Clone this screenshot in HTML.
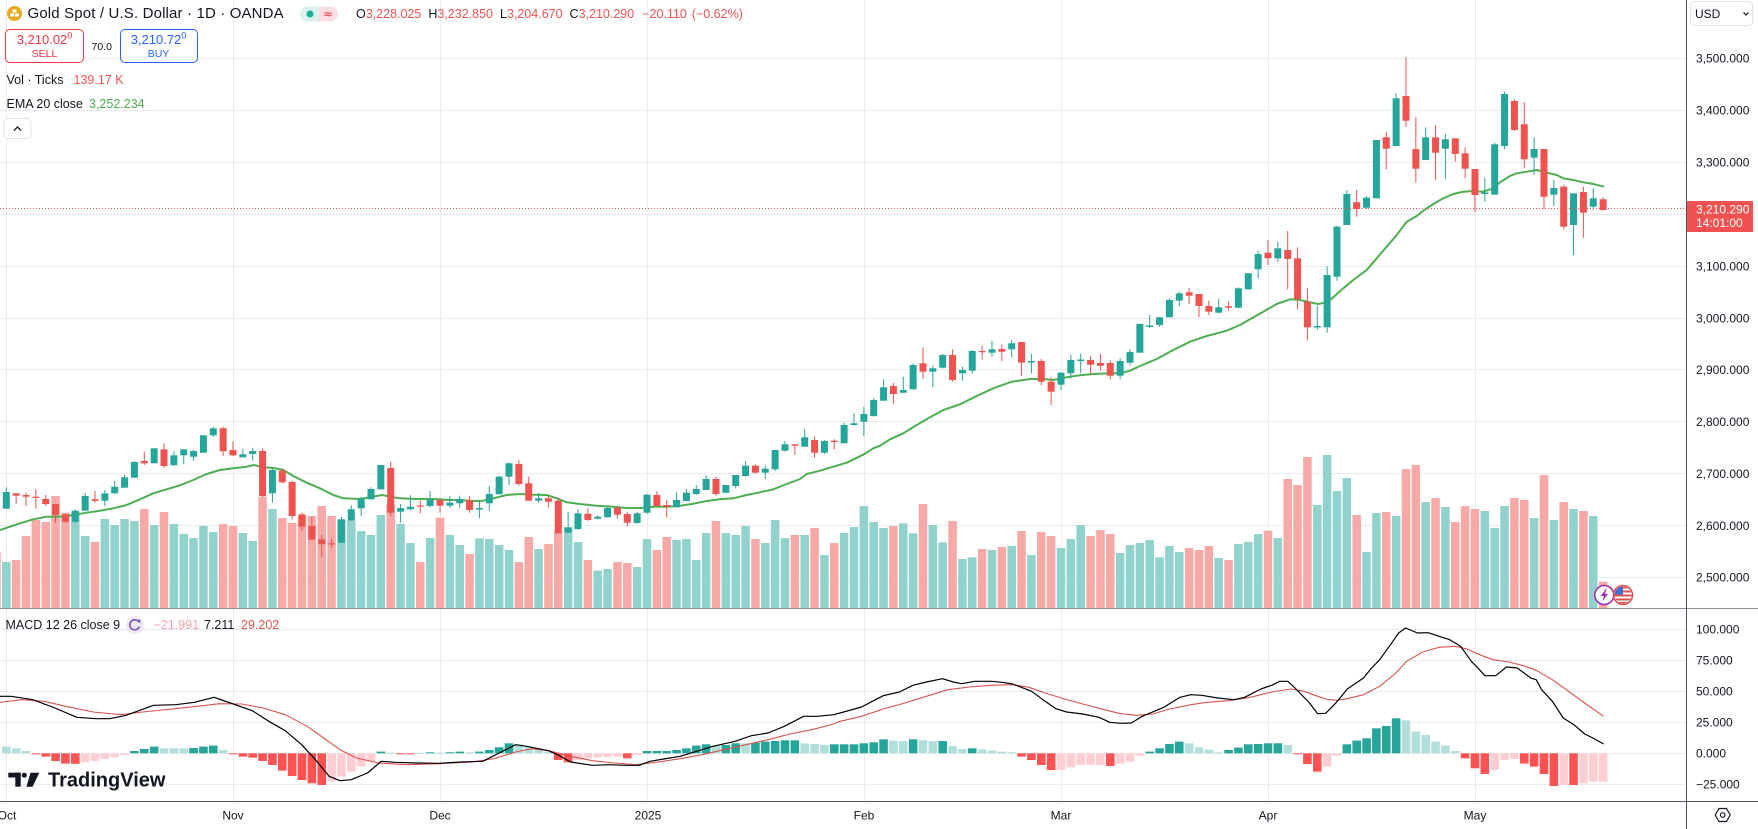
<!DOCTYPE html>
<html><head><meta charset="utf-8">
<style>
html,body{margin:0;padding:0;background:#fff;}
body{width:1758px;height:829px;overflow:hidden;position:relative;font-family:"Liberation Sans",sans-serif;color:#131722;}
svg{position:absolute;left:0;top:0;}
.t{position:absolute;white-space:nowrap;line-height:16px;}
.r{color:#ef5350;}
.box{position:absolute;box-sizing:border-box;border-radius:5px;text-align:center;background:#fff;}
</style></head><body>
<svg id="c" width="1758" height="829" xmlns="http://www.w3.org/2000/svg">
<g id="grid" stroke="#e9ebf0" stroke-width="1" fill="none">
<path d="M0 58.5H1686M0 110.5H1686M0 162.5H1686M0 214.5H1686M0 266.5H1686M0 318.5H1686M0 369.5H1686M0 421.5H1686M0 473.5H1686M0 525.5H1686M0 577.5H1686"/>
<path d="M0 629.5H1686M0 660.5H1686M0 691.5H1686M0 722.5H1686M0 753.5H1686M0 784.5H1686"/>
<path d="M6.5 0V801M233.5 0V801M440.5 0V801M647.5 0V801M864.5 0V801M1061.5 0V801M1268.5 0V801M1475.5 0V801"/>
</g>
<g id="vol"></g>
<g id="ema"></g>
<g id="cdl"></g>
<line x1="0" y1="208.5" x2="1686" y2="208.5" stroke="#ef5350" stroke-width="1" stroke-dasharray="1,2"/>
<g id="hist"></g>
<g id="macd"></g>
<!-- separators / axes -->
<line x1="0" y1="608.5" x2="1758" y2="608.5" stroke="#8a8d96" stroke-width="1"/>
<line x1="0" y1="801.5" x2="1758" y2="801.5" stroke="#50535e" stroke-width="1"/>
<line x1="1686.5" y1="0" x2="1686.5" y2="829" stroke="#50535e" stroke-width="1"/>
<!-- price axis labels -->
<g font-family="Liberation Sans, sans-serif" font-size="12" fill="#131722">
<text x="1696" y="62.4">3,500.000</text>
<text x="1696" y="114.4">3,400.000</text>
<text x="1696" y="166.4">3,300.000</text>
<text x="1696" y="270.4">3,100.000</text>
<text x="1696" y="322.4">3,000.000</text>
<text x="1696" y="373.9">2,900.000</text>
<text x="1696" y="425.9">2,800.000</text>
<text x="1696" y="477.9">2,700.000</text>
<text x="1696" y="529.9">2,600.000</text>
<text x="1696" y="581.4">2,500.000</text>
<text x="1696" y="633.4">100.000</text>
<text x="1696" y="664.4">75.000</text>
<text x="1696" y="695.4">50.000</text>
<text x="1696" y="726.4">25.000</text>
<text x="1696" y="757.7">0.000</text>
<text x="1696" y="788.7">−25.000</text>
</g>
<!-- time axis labels -->
<g font-family="Liberation Sans, sans-serif" font-size="12" fill="#131722" text-anchor="middle">
<text x="7" y="819.5">Oct</text>
<text x="233" y="819.5">Nov</text>
<text x="440" y="819.5">Dec</text>
<text x="648" y="819.5">2025</text>
<text x="864" y="819.5">Feb</text>
<text x="1061" y="819.5">Mar</text>
<text x="1268" y="819.5">Apr</text>
<text x="1475" y="819.5">May</text>
</g>
<!-- price label -->
<rect x="1687" y="201" width="66" height="31" fill="#f05252"/>
<text x="1696" y="213.5" font-family="Liberation Sans, sans-serif" font-size="12" fill="#fff">3,210.290</text>
<text x="1696" y="227" font-family="Liberation Sans, sans-serif" font-size="12" fill="#fff">14:01:00</text>
<!-- USD box -->
<rect x="1690.5" y="1.5" width="62" height="24" rx="4" fill="#fff" stroke="#e0e3eb"/>
<text x="1695" y="18" font-family="Liberation Sans, sans-serif" font-size="12" fill="#131722">USD</text>
<polyline points="1743.5,12.5 1746,15 1748.5,12.5" fill="none" stroke="#131722" stroke-width="1.2"/>
<!-- gear -->
<polygon points="1730.2,815 1726.45,821.5 1718.95,821.5 1715.2,815 1718.95,808.5 1726.45,808.5" fill="none" stroke="#131722" stroke-width="1.2"/>
<circle cx="1722.7" cy="815" r="2.3" fill="none" stroke="#131722" stroke-width="1.2"/>
<!-- header icons -->
<circle cx="14.5" cy="13.5" r="7.5" fill="#e7a81b"/>
<rect x="10" y="13.5" width="4" height="3" fill="#fff"/>
<rect x="15" y="13.5" width="4" height="3" fill="#fff"/>
<rect x="12.5" y="9.5" width="4" height="3" fill="#fff"/>
<path d="M307.5 6.5H319V21.5H307.5A7.5 7.5 0 0 1 307.5 6.5Z" fill="#dcf2ee"/>
<path d="M319 6.5H330.5A7.5 7.5 0 0 1 330.5 21.5H319Z" fill="#fcdde3"/>
<circle cx="310" cy="14" r="3.5" fill="#22ab94"/>
<text x="328" y="18" font-family="DejaVu Sans, sans-serif" font-size="12" fill="#f23645" text-anchor="middle">≈</text>
<!-- collapse button -->
<rect x="4" y="118.5" width="27" height="20" rx="4" fill="#fff" stroke="#e0e3eb"/>
<polyline points="14,130.5 17.5,127 21,130.5" fill="none" stroke="#131722" stroke-width="1.3"/>
<!-- macd icon -->
<circle cx="135" cy="625" r="9" fill="#ede7f6"/>
<path d="M138.5 621.5 A5 5 0 1 0 139.5 626.5" fill="none" stroke="#7e57c2" stroke-width="1.6"/>
<polygon points="136.5,620 140.5,619.5 140,623.5" fill="#7e57c2"/>
<!-- TradingView logo -->
<rect x="8.3" y="772.7" width="12.4" height="4.8" fill="#131722"/>
<rect x="15.3" y="772.7" width="5.4" height="14" fill="#131722"/>
<circle cx="24.3" cy="775.2" r="2.5" fill="#131722"/>
<polygon points="30.5,772.7 39.3,772.7 32.6,786.7 26.4,786.7" fill="#131722"/>
<text x="48" y="786.5" font-family="Liberation Sans, sans-serif" font-weight="bold" font-size="20" fill="#131722">TradingView</text>
<!-- bottom icons -->
<circle cx="1604.3" cy="595" r="9.5" fill="#fff" stroke="#9c27b0" stroke-width="1.5"/>
<polygon points="1606.3,588.5 1600.8,596 1604,596 1602.3,601.5 1608,593.8 1604.8,593.8 1606.8,588.5" fill="#9c27b0"/>
<defs><clipPath id="fc"><circle cx="1623" cy="595" r="8.5"/></clipPath></defs>
<g clip-path="url(#fc)">
<rect x="1614" y="586" width="18" height="18" fill="#fff"/>
<rect x="1614" y="586.5" width="18" height="2" fill="#e05050"/>
<rect x="1614" y="590.5" width="18" height="2" fill="#e05050"/>
<rect x="1614" y="594.5" width="18" height="2" fill="#e05050"/>
<rect x="1614" y="598.5" width="18" height="2" fill="#e05050"/>
<rect x="1614" y="602" width="18" height="2" fill="#e05050"/>
<rect x="1614" y="586" width="9" height="8.5" fill="#3f6fd0"/>
</g>
<circle cx="1623" cy="595" r="9.5" fill="none" stroke="#e05050" stroke-width="1.5"/>
</svg>

<!-- header -->
<div class="t" style="left:27.5px;top:5.5px;font-size:15px;letter-spacing:0.15px;">Gold Spot / U.S. Dollar · 1D · OANDA</div>
<div class="t" style="left:356px;top:5.5px;font-size:12.5px;">O<span class="r">3,228.025</span><span style="margin-left:7px">H</span><span class="r">3,232.850</span><span style="margin-left:7px">L</span><span class="r">3,204.670</span><span style="margin-left:7px">C</span><span class="r">3,210.290</span><span class="r" style="margin-left:8px">−20.110</span><span class="r" style="margin-left:5px">(−0.62%)</span></div>

<div class="box" style="left:5px;top:29px;width:79px;height:34px;border:1px solid #f23645;color:#f23645;">
<div style="font-size:13px;line-height:15px;margin-top:2px;">3,210.02<sup style="font-size:9px;line-height:0;">0</sup></div>
<div style="font-size:10.5px;line-height:13px;margin-top:1px;">SELL</div>
</div>
<div class="t" style="left:91.5px;top:39px;font-size:10.5px;">70.0</div>
<div class="box" style="left:119.5px;top:29px;width:78px;height:34px;border:1px solid #2962ff;color:#2962ff;">
<div style="font-size:13px;line-height:15px;margin-top:2px;">3,210.72<sup style="font-size:9px;line-height:0;">0</sup></div>
<div style="font-size:10.5px;line-height:13px;margin-top:1px;">BUY</div>
</div>

<div class="t" style="left:6.5px;top:72px;font-size:12.5px;">Vol · Ticks</div>
<div class="t r" style="left:73.5px;top:72px;font-size:12.5px;">139.17 K</div>
<div class="t" style="left:6.5px;top:96px;font-size:12.5px;">EMA 20 close</div>
<div class="t" style="left:89px;top:96px;font-size:12.5px;color:#4caf50;">3,252.234</div>

<div class="t" style="left:5.5px;top:617px;font-size:12.5px;">MACD 12 26 close 9</div>
<div class="t" style="left:153.5px;top:617px;font-size:12.5px;color:#f7a3ad;">−21.991</div>
<div class="t" style="left:204px;top:617px;font-size:12.5px;color:#131722;">7.211</div>
<div class="t" style="left:241px;top:617px;font-size:12.5px;color:#e0574f;">29.202</div>

<script>
(function(){
var NS="http://www.w3.org/2000/svg";
function el(p,t,a){var e=document.createElementNS(NS,t);for(var k in a)e.setAttribute(k,a[k]);p.appendChild(e);return e;}
function X(i){return 233+9.857*i;}
var D=[
[0,492.7,508.3,490,510,551.7],[1,492,508.7,487.3,508.7,562],[0,493.3,495.7,493.3,504,560],[0,495,496.7,492.7,506,536],
[0,496.7,497.7,489.3,508.7,520],[0,499,504,495,506,522],[0,504,515,504,522.7,496],[0,514.3,521.7,513.3,522.7,512.7],
[1,510.7,521.7,509.3,522.7,511.7],[1,496,510.7,492.7,510.7,536],[0,499.3,501,491,502.7,542],[1,493.3,500.7,490,506,519],
[1,486.7,493.3,481,494.3,525],[1,477.3,487.7,475,487.7,519],[1,462,477.7,461.3,477.7,521],[0,461,463.3,451.7,465,509],
[1,448.3,463.3,448.3,463.3,525],[0,449.3,466,443.3,468.3,512],[1,455.3,465.3,451,465.3,524],[1,449.3,455.3,449.3,464.3,534],
[1,451,456.7,450,460.7,538],[1,435.3,452.7,435,452.7,526],[1,428.3,435.3,426.7,436.7,532],[0,428.3,451.3,426.7,456,524],
[0,450,455.3,441.3,456,526],[1,454.3,457.3,448.7,457.3,533],[1,451,454,447.7,460.7,541],[0,451,496,448.3,497.3,496.7],
[1,470,493.3,468.3,502.7,509],[0,470.7,482.3,468.3,483.3,518],[0,482,516,480.7,519.3,523],[0,514.3,526.7,512.7,530.7,516],
[0,526,539.7,516.7,539.7,516],[0,539.3,544.3,535,557.3,506],[0,543.3,544.3,538.7,548.3,516],[1,519.3,542.7,516.7,542.7,520],
[1,509.3,520.7,505.3,520.7,521],[1,498.7,508.3,496.7,516,531],[1,489,499.3,487.3,499.3,535],[1,465,489.3,465,489.3,515],
[0,468,512.7,462,516.7,504],[1,508,511.7,504,522.7,524],[1,506.7,509.3,495.3,510,543],[0,505.5,506.5,500.7,513.3,562],
[1,499.3,506,491,507.3,538],[0,500,505.7,498.3,512.7,517.7],[1,502.7,505.7,496,507.7,535],[1,499,503.3,495.7,507.7,545],
[0,500,510,496,512.7,554],[1,508,509.5,500,518.3,538.3],[1,494,503.3,486,510.7,539],[1,476.7,494.3,476,494.3,545],
[1,463.3,476.7,462.3,485,550],[0,464,484,460,485.7,562],[0,483.3,500.7,476.7,500.7,537],[1,498.3,500.7,492.7,502.7,549],
[0,498.3,501.7,495.7,507.3,544],[0,500.7,533.3,498.3,533.3,531.7],[1,527.7,532.7,512,532.7,527],[1,513.3,529,509.3,530,542],
[0,513.7,520,508.3,521,560],[1,516.7,518.7,515.3,519.3,570.7],[1,508,517.3,506.7,517.3,569],[0,507.7,514.7,505.7,518.7,562],
[0,514,522.7,511.7,526.7,563],[1,513.3,523,511.7,523.7,567],[1,494.7,512.7,494,513.7,539],[0,495,506,491.3,506,550],
[0,505,507,500,517.7,537],[1,500,507.3,492.3,507.3,540],[1,492.7,501,489,501,539],[1,489,494,485,495,560],
[1,479,490,475.3,490,533],[0,479,494,476.7,495.7,521],[1,485,492.7,485,493.3,533],[1,475,486,475,488.3,535],
[1,465.7,476,461,476.7,526],[0,465.7,472.7,464.3,473.3,539],[1,468.7,472.7,465.3,478.7,543],[1,450,469.3,450,471,520],
[1,444.3,450.7,441,451.7,538],[0,444.3,445.7,444,454.7,535],[1,437.3,446.7,429,446.7,535],[0,440,452.7,436.7,457.7,528],
[1,441,452.7,440,454,555],[0,440.7,442,439.3,449.3,543],[1,425,443.3,422.7,443.3,533],[1,423.3,425,413.3,425.7,527],
[1,414,421.7,406.7,436,506],[1,400,416,398.3,416.7,522],[1,387.3,400.7,379.3,400.7,528],[0,386,394,382.7,404,526],
[1,390,392.7,376.7,392.7,523.3],[1,365,389.3,363.3,389.3,533.3],[0,363.3,371.7,347.3,378.7,504],[1,368.3,371.7,365.7,387.3,525],
[1,355,367.7,354,368.3,542.3],[0,355,380,349.3,381.7,521],[1,370,373.3,366.7,380.7,559],[1,351,370.7,350,373.3,557.3],
[0,351,352,345.7,359.3,549],[1,349.3,352.7,341,356.7,550],[0,349,351.7,344.3,361,547],[1,343.3,349.3,340,357.3,546],
[0,342,362.7,342,376,531],[1,361,362.5,354,373.3,555],[0,361,381.7,359,385,532],[0,381.7,391.7,377.3,405,536],
[1,372.7,384.7,372,390,548],[1,360,373.3,354.7,378.7,539],[1,359.5,361,353.7,373.3,525],[0,360,364.7,356,374,536],
[0,363,365.7,354,370.7,530],[0,363,375.7,360.3,379.3,534],[1,361,375.7,358.3,379.3,553],[1,352,362.7,349.3,365.3,545],
[1,324,352.7,323.3,352.7,543],[1,325.5,327,315,328.3,540],[1,317.3,325,316.7,326.7,557.3],[1,300,317.3,298.3,317.3,546],
[1,293.3,300.7,291.7,306,552],[0,292.3,295.7,288,304,548],[0,294,306,294,317.3,550],[0,306,311.7,300.7,315,546],
[1,307.3,312.7,299,313.3,558],[0,306.2,307.7,301.3,310.7,560],[1,288.3,307.7,287.3,308.3,544],[1,273.3,289.3,273.3,290,542],
[1,254,269.3,250.7,278.3,534],[0,252.7,258.3,240,265,530.7],[1,248.3,258.3,241.7,262,538],[0,250,259,231,289.3,479],
[0,258.3,299.3,247.3,309.3,485],[0,301.7,327.3,288.3,340,457],[1,326,327.5,305.7,330,505],[1,275,327.3,266,332.7,455],
[1,226.7,276.7,226,280.7,491],[1,194,225,190,225,478],[0,202.3,209,190,216.7,515],[1,197.7,207.7,196,209,552],
[1,140,198.3,140,198.3,513],[0,137.3,148.7,132,169.3,512],[1,98.3,146,93.3,146,516],[0,96,120.7,57.3,126.7,469],
[0,149,168.7,117.3,182.7,465],[1,137.3,160,127.3,160,502],[0,137.3,152.7,125.3,180,498],[1,139.3,148.7,134,178.7,507],
[0,138.3,154,138.3,161.7,522],[0,153.3,168.7,147.3,178.3,506],[0,169,195,169,212.7,509],[1,192.5,194,177.7,201.7,511],
[1,144.3,194.7,142.7,194.7,528],[1,94,146,91.7,149.3,506],[0,101,130,99.3,130.7,498],[0,124.3,159.3,102,168.3,500],
[1,149,157.7,137.3,175,518],[0,149,196.7,149,209.3,475],[1,188,194.7,180,206,520],[0,186.7,226.7,185,229.3,502],
[1,193.3,225,193.3,255,509],[0,192,212.7,186.7,237.7,511],[1,198.3,206.7,188.3,210,516],[0,199.3,210,197.3,210.7,581.7]
];
var gV=document.getElementById('vol'),gC=document.getElementById('cdl');
for(var n=0;n<D.length;n++){
  var d=D[n],i=n-24,x=X(i),up=d[0]===1,col=up?'#26a69a':'#ef5350';
  el(gV,'rect',{x:(x-4.25).toFixed(2),y:d[5],width:8.5,height:(608-d[5]).toFixed(2),fill:up?'#92d2cc':'#f7a9a7'});
  el(gC,'rect',{x:(x-0.5).toFixed(2),y:d[3],width:1,height:(d[4]-d[3]).toFixed(2),fill:col});
  el(gC,'rect',{x:(x-3.5).toFixed(2),y:d[1],width:7,height:Math.max(1.2,d[2]-d[1]).toFixed(2),fill:col});
}
var E=[[0,530],[10,526.7],[20,523.3],[33.3,519.3],[46.7,516.7],[60,516.7],[73.3,515],[86.7,512.7],[100,510.7],[113.3,508.3],[126.7,505],[140,499.3],[153.3,493.3],[166.7,489.3],[180,485.3],[193.3,480],[206.7,474],[220,470],[233.3,468.3],[246.7,466.7],[254,465],[263.3,467.3],[273.3,468],[283.3,470],[293.3,476],[306.7,482.7],[320,488.3],[333.3,495],[343.3,498.3],[360,499],[373.3,496.7],[381.7,495],[390,496.7],[400,498.3],[416.7,499],[433.3,499],[450,500],
[456.7,500],[473.3,501],[483.3,500.7],[493.3,498.3],[506.7,495],[520,494],[533.3,494.7],[546.7,495],[556.7,498.3],[566.7,502.3],[580,504],[596.7,505.7],[613.3,506.7],[626.7,508],[640,508],[653.3,506.7],[666.7,506.7],[680,505.7],[693.3,503.7],[706.7,501],[720,499.3],[733.3,498.3],[746.7,495],[760,492.3],[773.3,489.3],[786.7,484],[800,479],[806.7,474],[820,470.7],[833.3,466.7],[846.7,462.7],[863.3,454.7],[873.3,448.3],
[880,445.7],[890,439.3],[903.3,433.3],[916.7,425],[930,417.3],[943.3,410],[960,404.3],[976.7,396],[993.3,388.3],[1011.7,381.7],[1030,379],[1043.3,379],[1053.3,380],[1066.7,377.3],[1080,375.3],[1093.3,374],[1110,373.3],[1120,373.3],[1130,370.7],[1140,366],[1156.7,359],[1173.3,350],[1190,341.7],[1206.7,336],[1226.7,330.7],[1240,325],[1250,319.3],[1263.3,311.7],[1276.7,304],
[1290,299.3],[1300,300],[1310,302.3],[1318.3,304],[1326.7,302.3],[1333.3,297.3],[1343.3,288.3],[1353.3,280],[1366.7,270],[1376.7,258.3],[1386.7,246.7],[1396.7,235],[1406.7,221.7],[1416.7,216],[1423.3,210.7],[1433.3,204],[1443.3,198.3],[1453.3,194],[1463.3,191.7],[1473.3,191],[1483.3,191.7],[1493.3,188.3],[1500,182.3],[1510,176],[1516.7,173.3],[1526.7,171.7],[1536.7,170],[1546.7,172.7],[1556.7,175],[1563.3,178.3],[1573.3,180],[1583.3,182.3],[1593.3,184],[1604,186.7]];
el(document.getElementById('ema'),'polyline',{points:E.map(function(p){return p[0]+','+p[1];}).join(' '),fill:'none',stroke:'#4caf50','stroke-width':2,'stroke-linejoin':'round'});

var H="g6.7 g5 g2.3 R-0.7 R-3.3 R-7.7 R-10.3 R-10.5 r-9 r-7.7 r-5.7 r-4 r-1.7 G2.3 G4.3 G6.7 g5 g5 g5 G5.3 G6.7 G7.7 g3.3 R-0.7 R-3.3 R-4.3 R-7.7 R-11.7 R-17.3 R-22.7 R-26.7 R-30 R-31.7 r-28.3 r-23.3 r-18.3 r-13.3 r-8.3 G1.7 g0.6 R-0.7 R-0.7 g0.6 G1 g0.7 G1 G1.7 g1 G1.7 G3.3 G6 G10 g9 g6.7 g4.3 g1.7 R-6.7 R-9 r-6.7 r-5 r-4 r-3.7 r-3.3 R-5 r-1.7 G2.3 G2.3 G2.3 G3.3 G5 G7.7 G9 g8.3 G8.3 G10 g10 G10.7 G11.7 G12.3 G13 G13 g10 g9.3 g8.3 G9 G9 G9 G10 G11 G14 g12.7 g12.3 G14 g13 g12.3 G12.3 g7.3 g4.3 G5 g4 g2.7 g1.7 g1 R-3.3 R-6.7 R-11.7 R-16.7 r-16.7 r-14 r-11.7 r-11.7 r-11.7 R-12.7 r-10.3 r-8.3 r-2.3 G1.7 G5 G9.3 G11.7 g10 g6 g3.7 g1 G3.3 G5.7 G9 G9.3 G10 G10 g8.3 R-0.7 R-10.7 R-18.3 r-13.3 r-2.3 G9 G12.7 G15 G25 G27.3 G35 g33 g21.7 g18.3 g11.7 g7.7 g2.3 R-5 R-15 R-20.7 r-16.7 r-6.7 r-5.7 R-10.3 R-13.3 R-20.7 R-32.7 r-31.7 R-31.7 r-30 r-28.3 r-28.3".split(' ');
var HC={G:'#26a69a',g:'#b2dfdb',R:'#ff5252',r:'#ffcdd2'};
var gH=document.getElementById('hist'),Z=753.3;
for(var k=0;k<H.length;k++){
  var c=H[k].charAt(0),v=parseFloat(H[k].slice(1)),xx=6.3+9.857*k;
  var y0=v>=0?Z-v:Z, h=Math.max(1,Math.abs(v));
  el(gH,'rect',{x:(xx-4.3).toFixed(2),y:y0.toFixed(2),width:8.6,height:h.toFixed(2),fill:HC[c]});
}
function tr8(a){return a.map(function(p){return (p[0]/1.823).toFixed(1)+','+(608+p[1]/3).toFixed(1);});}
function tr9(a){return a.map(function(p){return (840+p[0]/1.853).toFixed(1)+','+(608+p[1]/3).toFixed(1);});}
var M8=[[0,265],[20,265],[60,275],[100,300],[140,328],[175,332],[200,332],[230,322],[280,292],[320,290],[355,283],[390,268],[420,285],[460,308],[490,340],[520,368],[550,410],[575,455],[600,505],[620,518],[640,515],[670,495],[695,460],[720,463],[760,465],[800,466],[840,462],[880,460],[910,435],[940,410],[960,415],[1000,428],[1020,443],[1040,462],[1080,472],[1110,470],[1140,472],[1165,472],[1185,460],[1210,453],[1240,445],[1270,430],[1300,415],[1340,400],[1370,383],[1400,375],[1430,355],[1465,325],[1490,325],[1520,320]];
var M9=[[0,315],[40,297],[80,263],[110,252],[135,232],[160,222],[190,212],[210,222],[225,227],[250,220],[280,220],[300,223],[320,228],[355,250],[380,280],[400,302],[420,312],[450,318],[480,328],[500,343],[520,346],[540,345],[560,325],[600,298],[630,268],[650,260],[670,262],[700,270],[730,275],[750,268],[780,243],[800,232],[815,220],[830,220],[845,243],[870,285],[885,317],[900,316],[920,283],[940,243],[970,210],[985,180],[1000,155],[1020,110],[1035,75],[1048,60],[1070,75],[1090,74],[1110,85],[1130,95],[1150,115],[1170,160],[1185,185],[1195,203],[1215,203],[1235,177],[1255,180],[1280,210],[1290,215],[1300,245],[1320,280],[1340,330],[1360,350],[1380,378],[1395,390],[1415,408]];
var S8=[[0,283],[40,275],[80,280],[120,295],[170,312],[220,320],[260,312],[320,302],[360,295],[400,287],[440,288],[480,300],[520,320],[560,355],[590,390],[620,425],[650,450],[690,465],[740,470],[800,467],[860,462],[900,452],[940,432],[970,422],[1000,428],[1040,445],[1080,458],[1120,465],[1160,470],[1200,462],[1240,452],[1280,440],[1320,425],[1360,410],[1400,395],[1440,378],[1480,365],[1520,348]];
var S9=[[0,340],[40,325],[80,303],[120,285],[160,265],[200,245],[240,237],[280,232],[320,230],[350,238],[380,255],[410,270],[450,288],[490,305],[520,317],[550,322],[580,318],[610,303],[650,290],[680,283],[720,278],[760,268],[800,252],[835,243],[860,250],[880,262],[900,273],[920,277],[940,272],[970,260],[1000,235],[1030,195],[1050,160],[1080,132],[1110,118],[1140,115],[1160,122],[1190,143],[1210,155],[1240,162],[1270,175],[1290,187],[1320,215],[1350,250],[1380,285],[1415,325]];
var gM=document.getElementById('macd');
el(gM,'polyline',{points:tr8(S8).concat(tr9(S9)).join(' '),fill:'none',stroke:'#d9534f','stroke-width':1.1,'stroke-linejoin':'round'});
el(gM,'polyline',{points:tr8(M8).concat(tr9(M9)).join(' '),fill:'none',stroke:'#000','stroke-width':1.2,'stroke-linejoin':'round'});
})();
</script>
</body></html>
